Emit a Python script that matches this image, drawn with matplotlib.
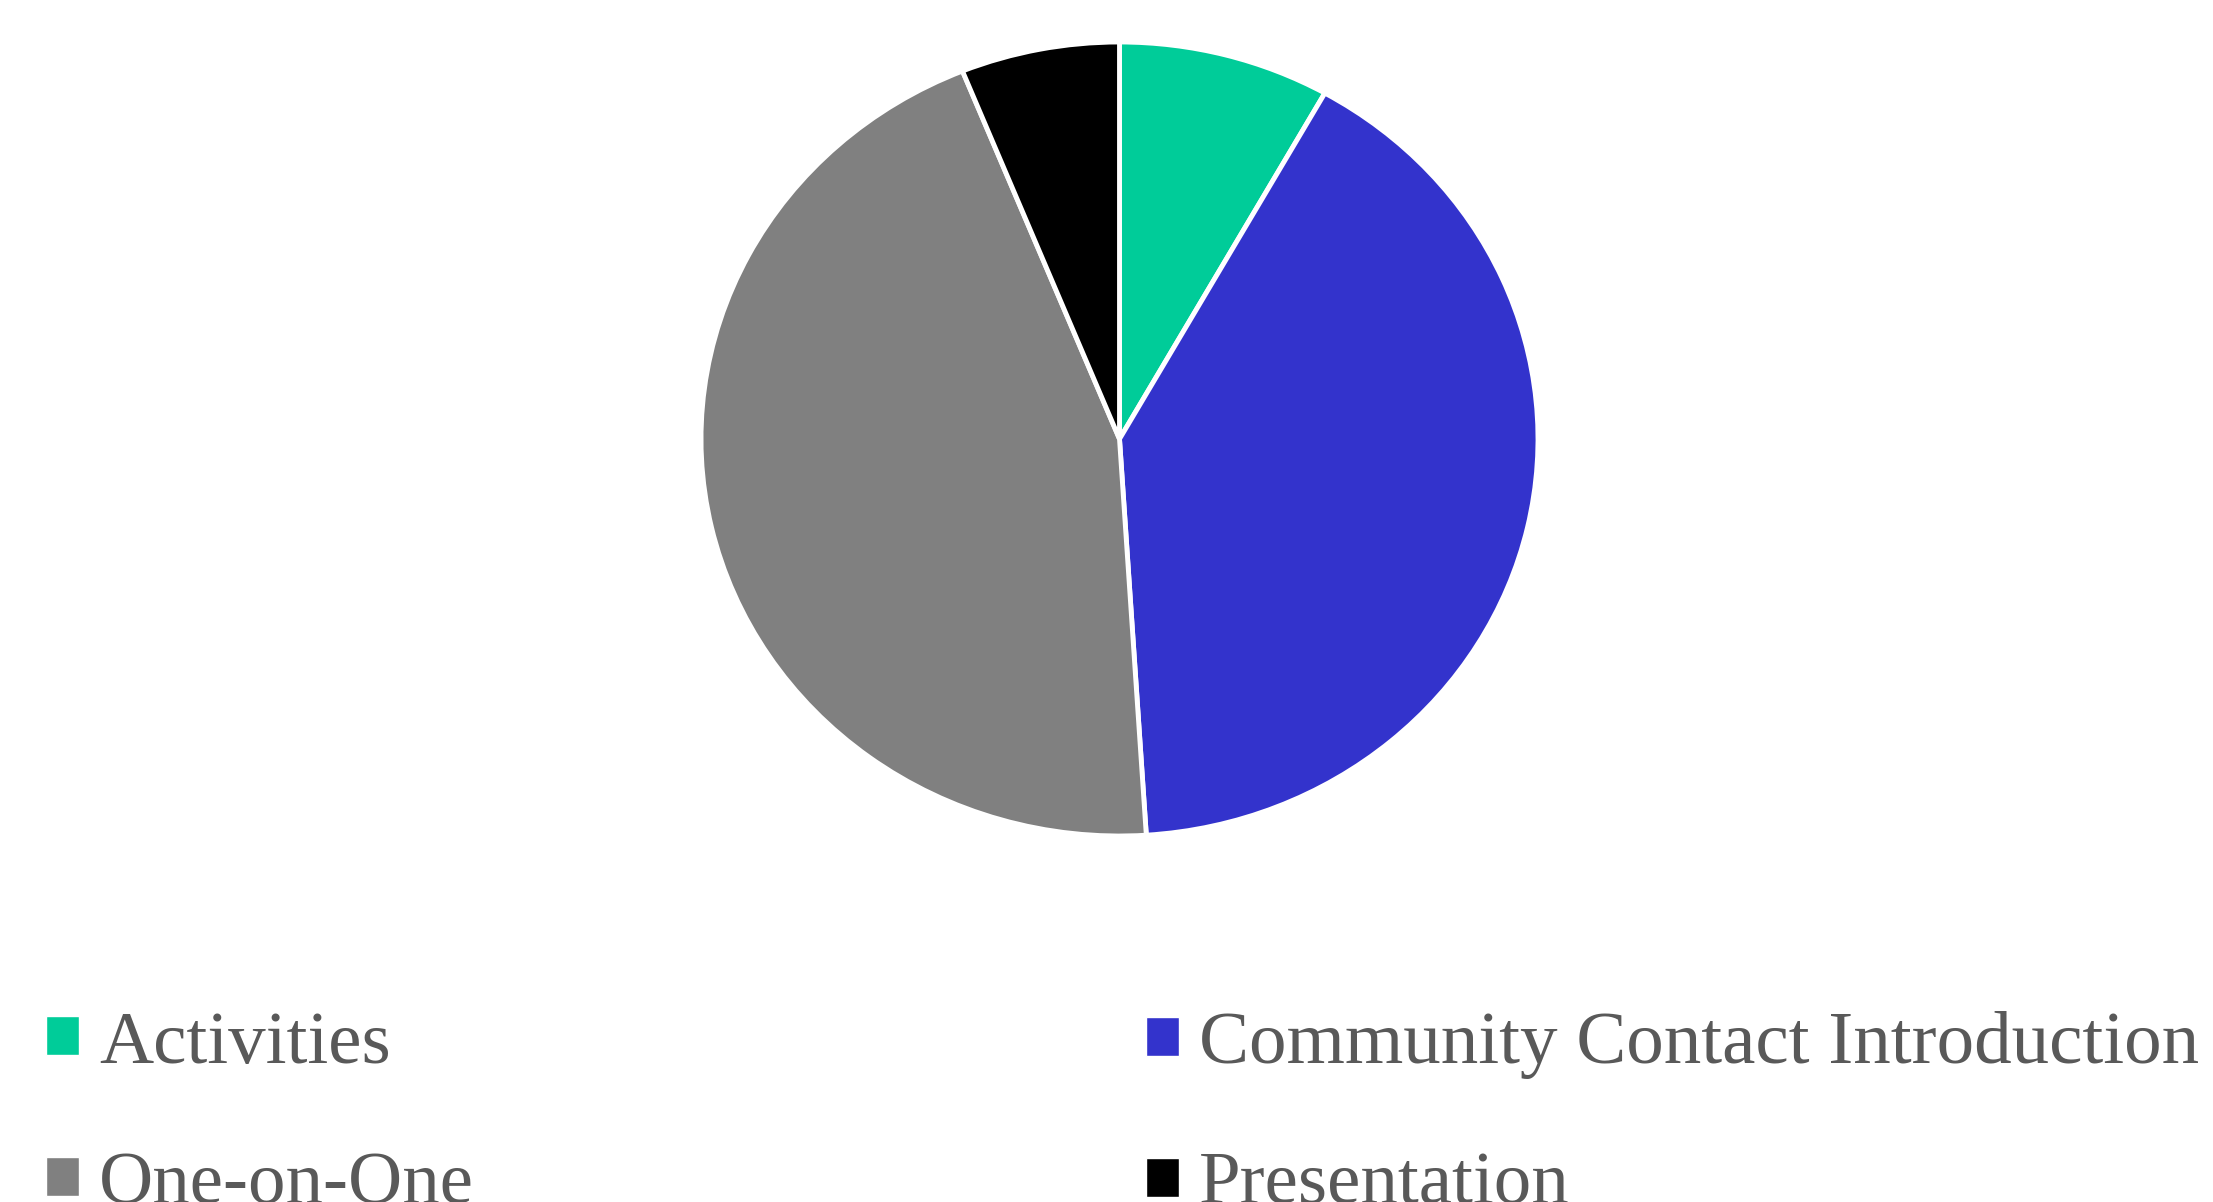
import matplotlib.pyplot as plt

labels = ['Activities', 'Community Contact Introduction', 'One-on-One', 'Presentation']
counts = [4, 20, 22, 3]
colors = ['#00CC99', '#3333CC', '#808080', '#000000']

plt.rcParams['font.family'] = ['Liberation Serif', 'DejaVu Serif']

fig = plt.figure(figsize=(22.13, 12.02), dpi=100)
W, H = 2213, 1202

# pie area in pixels: x 701..1538, y 42..836 (slightly wider than tall)
ax = fig.add_axes([701 / W, (H - 836) / H, 837 / W, 794 / H])
wedges, _ = ax.pie(counts, colors=colors, startangle=90, counterclock=False,
                   wedgeprops=dict(edgecolor='white', linewidth=3.5))
ax.set_aspect('auto')
ax.set_xlim(-1, 1)
ax.set_ylim(-1, 1)
ax.axis('off')

# legend as two columns placed separately
common = dict(loc='upper left', frameon=False, fontsize=54, labelcolor='#595959',
              handlelength=0.44, handleheight=0.43, handletextpad=0.27,
              labelspacing=0.98, borderpad=0, borderaxespad=0)
leg1 = fig.legend([wedges[0], wedges[2]], [labels[0], labels[2]],
                  bbox_to_anchor=(46 / W, (H - 1011) / H), **common)
leg2 = fig.legend([wedges[1], wedges[3]], [labels[1], labels[3]],
                  bbox_to_anchor=(1146 / W, (H - 1011) / H), **common)
for leg in (leg1, leg2):
    for h in leg.legend_handles:
        h.set_linewidth(1)

fig.savefig('out.png', dpi=100)
